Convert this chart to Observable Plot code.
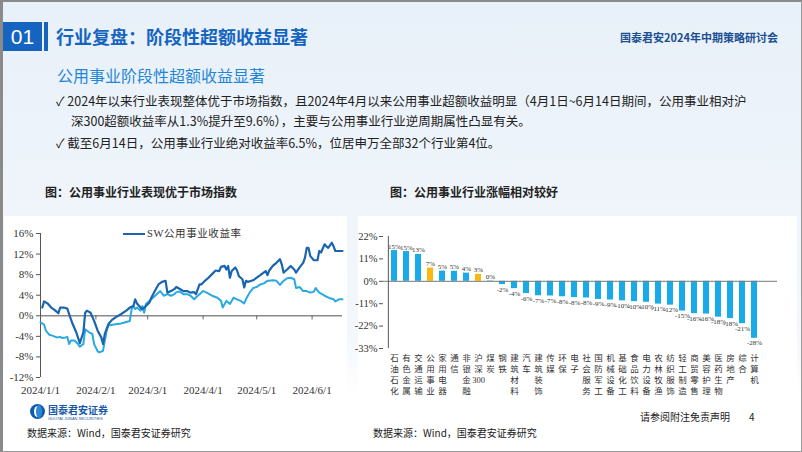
<!DOCTYPE html>
<html><head><meta charset="utf-8">
<script src="https://cdn.jsdelivr.net/npm/d3@7"></script>
<script src="https://cdn.jsdelivr.net/npm/@observablehq/plot@0.6"></script>
<style>
body{margin:0;background:#fff;}
#page{position:relative;width:802px;height:452px;overflow:hidden;background:linear-gradient(180deg,#e8f0f9 0%,#eef4fa 40%,#f4f8fc 75%,#ffffff 88%);font-family:"Noto Sans CJK SC","Noto Sans",sans-serif;}
.abs{position:absolute;white-space:nowrap;}
.panel{position:absolute;background:#fff;}
</style></head><body>
<div id="page">
  <div class="abs" style="left:3px;top:22px;width:39px;height:29px;background:#1565c0;color:#fff;font-family:'Liberation Sans',sans-serif;font-size:21px;line-height:29px;text-align:center;">01</div>
  <div class="abs" style="left:44px;top:22px;width:4px;height:29px;background:#1565c0;"></div>
  <div class="abs" style="left:56px;top:25px;font-size:18px;font-weight:bold;color:#1565c0;line-height:22px;">行业复盘：阶段性超额收益显著</div>
  <div class="abs" style="left:620px;top:30px;font-size:11px;font-weight:bold;color:#1b4f91;line-height:14px;">国泰君安2024年中期策略研讨会</div>

  <div class="abs" style="left:57px;top:65px;font-size:16px;color:#1f86d8;line-height:20px;">公用事业阶段性超额收益显著</div>
  <div class="abs" style="left:56px;top:92px;font-size:12.5px;color:#222;line-height:18px;">✓ 2024年以来行业表现整体优于市场指数，且2024年4月以来公用事业超额收益明显（4月1日~6月14日期间，公用事业相对沪</div>
  <div class="abs" style="left:71px;top:112px;font-size:12.5px;color:#222;line-height:18px;">深300超额收益率从1.3%提升至9.6%），主要与公用事业行业逆周期属性凸显有关。</div>
  <div class="abs" style="left:56px;top:134px;font-size:12.5px;color:#222;line-height:18px;">✓ 截至6月14日，公用事业行业绝对收益率6.5%，位居申万全部32个行业第4位。</div>

  <div class="abs" style="left:45px;top:184px;font-size:12px;font-weight:bold;color:#222;line-height:16px;">图：公用事业行业表现优于市场指数</div>
  <div class="abs" style="left:390px;top:184px;font-size:12px;font-weight:bold;color:#222;line-height:16px;">图：公用事业行业涨幅相对较好</div>

  <div class="panel" style="left:4px;top:216px;width:343px;height:182px;"></div>
  <div class="panel" style="left:358px;top:216px;width:439px;height:182px;"></div>

  <div id="left" class="abs" style="left:0px;top:215px;"></div>
  <div id="right" class="abs" style="left:350px;top:215px;"></div>

  <div class="abs" style="left:123px;top:233px;width:22px;height:2px;background:#1a65b0;"></div>
  <div class="abs" style="left:147px;top:227px;font-size:10.5px;color:#333;line-height:14px;font-family:'Liberation Serif','Noto Sans CJK SC',serif;letter-spacing:0.6px;">SW公用事业收益率</div>

  <div class="abs" style="left:30px;top:404px;width:15px;height:15px;border-radius:50%;background:#0d5cb0;"></div>
  <div class="abs" style="left:34px;top:406px;width:7px;height:11px;border-radius:50%;background:#fff;"></div>
  <div class="abs" style="left:36px;top:405px;width:6px;height:13px;border-radius:50%;background:#2f86d6;"></div>
  <div class="abs" style="left:48px;top:403px;font-size:10px;font-weight:bold;color:#1a5aa8;line-height:13px;">国泰君安证券</div>
  <div class="abs" style="left:48px;top:416px;font-size:4px;color:#1a5aa8;line-height:5px;font-family:'Liberation Sans',sans-serif;">GUOTAI JUNAN SECURITIES</div>

  <div class="abs" style="left:27px;top:426px;font-size:10px;color:#222;line-height:13px;">数据来源：Wind，国泰君安证券研究</div>
  <div class="abs" style="left:373px;top:426px;font-size:10px;color:#222;line-height:13px;">数据来源：Wind，国泰君安证券研究</div>
  <div class="abs" style="left:640px;top:410px;font-size:10px;color:#222;line-height:13px;">请参阅附注免责声明</div>
  <div class="abs" style="left:749px;top:410px;font-size:10px;color:#222;line-height:13px;">4</div>

  <div class="abs" style="left:0;top:0;width:802px;height:452px;box-sizing:border-box;border:1px solid #9a9a9a;border-left:3px solid #8a8a8a;border-top:2px solid #8a8a8a;"></div>
</div>
<script>
// ---------- left chart data ----------
const swDates = ["2024-01-02","2024-01-03","2024-01-05","2024-01-07","2024-01-09","2024-01-10","2024-01-11","2024-01-12","2024-01-14","2024-01-16","2024-01-17","2024-01-19","2024-01-21","2024-01-23","2024-01-25","2024-01-26","2024-01-27","2024-01-29","2024-01-31","2024-02-02","2024-02-04","2024-02-05","2024-02-06","2024-02-08","2024-02-10","2024-02-12","2024-02-15","2024-02-18","2024-02-20","2024-02-22","2024-02-23","2024-02-24","2024-02-26","2024-02-27","2024-02-29","2024-03-02","2024-03-03","2024-03-05","2024-03-07","2024-03-09","2024-03-11","2024-03-12","2024-03-14","2024-03-16","2024-03-17","2024-03-19","2024-03-21","2024-03-23","2024-03-25","2024-03-27","2024-03-28","2024-03-30","2024-03-31","2024-04-02","2024-04-04","2024-04-06","2024-04-08","2024-04-10","2024-04-11","2024-04-13","2024-04-14","2024-04-15","2024-04-16","2024-04-17","2024-04-19","2024-04-20","2024-04-21","2024-04-23","2024-04-24","2024-04-25","2024-04-26","2024-04-29","2024-05-01","2024-05-03","2024-05-06","2024-05-07","2024-05-08","2024-05-10","2024-05-12","2024-05-14","2024-05-15","2024-05-16","2024-05-18","2024-05-20","2024-05-22","2024-05-23","2024-05-25","2024-05-27","2024-05-28","2024-05-29","2024-05-30","2024-05-31","2024-06-02","2024-06-04","2024-06-05","2024-06-06","2024-06-08","2024-06-09","2024-06-10","2024-06-12","2024-06-13","2024-06-14","2024-06-16","2024-06-18"];
const swValues = [1.6,2.8,2.4,1.6,1.1,0.8,0.5,1.6,1.6,1.4,0.3,-1.6,-3.2,-5.3,-3.2,0.6,1.0,0.6,-1.0,-2.9,-4.2,-5.5,-3.5,-1.6,-0.8,-0.3,0.3,1.0,1.6,1.9,3.2,2.4,1.6,1.3,1.9,2.6,3.5,4.8,6.1,6.6,6.8,4.5,4.8,5.2,5.6,5.2,4.8,4.8,4.5,4.6,4.2,6.1,6.1,6.8,7.4,8.1,8.8,8.7,9.5,9.7,9.0,9.7,7.4,8.7,9.4,8.8,7.7,7.1,5.5,6.8,6.6,6.9,7.4,7.9,8.7,7.9,8.8,9.7,10.3,11.0,10.0,8.4,9.0,9.7,9.0,8.4,9.4,10.3,11.3,13.2,13.2,11.6,10.8,10.8,12.6,12.3,13.9,13.5,13.2,14.2,13.5,12.6,12.6,12.6];
const hsDates = ["2024-01-01","2024-01-03","2024-01-04","2024-01-06","2024-01-08","2024-01-10","2024-01-12","2024-01-13","2024-01-15","2024-01-16","2024-01-17","2024-01-18","2024-01-20","2024-01-22","2024-01-23","2024-01-25","2024-01-26","2024-01-27","2024-01-29","2024-01-30","2024-01-31","2024-02-02","2024-02-03","2024-02-05","2024-02-06","2024-02-07","2024-02-08","2024-02-11","2024-02-15","2024-02-19","2024-02-20","2024-02-21","2024-02-22","2024-02-23","2024-02-24","2024-02-26","2024-02-27","2024-02-28","2024-02-29","2024-03-02","2024-03-03","2024-03-04","2024-03-06","2024-03-08","2024-03-10","2024-03-12","2024-03-14","2024-03-16","2024-03-17","2024-03-19","2024-03-21","2024-03-23","2024-03-25","2024-03-27","2024-03-29","2024-03-30","2024-04-01","2024-04-03","2024-04-06","2024-04-09","2024-04-11","2024-04-12","2024-04-14","2024-04-16","2024-04-18","2024-04-20","2024-04-22","2024-04-24","2024-04-25","2024-04-27","2024-04-29","2024-05-01","2024-05-03","2024-05-05","2024-05-07","2024-05-08","2024-05-10","2024-05-12","2024-05-14","2024-05-16","2024-05-18","2024-05-20","2024-05-22","2024-05-23","2024-05-25","2024-05-27","2024-05-29","2024-05-31","2024-06-02","2024-06-03","2024-06-05","2024-06-08","2024-06-11","2024-06-13","2024-06-14","2024-06-16","2024-06-18"];
const hsValues = [-1.3,-1.7,-2.9,-3.7,-3.9,-4.2,-4.1,-4.3,-4.2,-4.1,-5.5,-4.8,-4.8,-5.5,-6.0,-5.5,-2.6,-2.9,-3.4,-3.5,-5.5,-6.9,-7.1,-6.8,-4.8,-2.9,-1.9,-1.7,-1.5,-1.1,-1.0,1.3,1.9,1.3,1.6,1.0,1.9,0.6,2.3,2.9,3.2,3.5,4.2,4.8,3.9,4.2,3.9,4.2,4.6,4.7,4.2,4.2,3.9,3.2,3.9,4.2,4.8,4.5,3.9,3.5,2.9,1.6,2.9,2.3,3.5,3.2,2.9,2.4,3.2,4.5,5.4,5.6,6.1,6.3,6.8,6.8,6.9,6.8,6.0,6.8,7.3,7.4,7.1,5.4,5.6,4.8,4.8,4.5,4.7,5.4,4.5,3.9,3.4,3.2,2.8,3.2,3.2];
const lineYTicks = [16,12,8,4,0,-4,-8,-12];
const lineXTicks = ["2024-01-01","2024-02-01","2024-03-01","2024-04-01","2024-05-01","2024-06-01"];
const lineXDomain = ["2024-01-01","2024-06-18"];

// ---------- right chart data ----------
const barCats = ["石油石化","有色金属","交通运输","公用事业","家用电器","通信","非银金融","沪深300","煤炭","钢铁","建筑材料","汽车","建筑装饰","传媒","环保","电子","社会服务","国防军工","机械设备","基础化工","食品饮料","电力设备","农林牧渔","纺织服饰","轻工制造","商贸零售","美容护理","医药生物","房地产","综合","计算机"];
const barValues = [15.1,14.6,13.2,6.5,5.0,4.9,4.0,3.4,0.2,-1.6,-3.6,-6.0,-7.1,-7.2,-7.6,-8.0,-8.2,-8.9,-9.2,-9.6,-10.0,-10.3,-11.2,-11.7,-14.6,-15.9,-16.1,-17.6,-18.3,-20.8,-28.0];
const barHighlight = ["公用事业","沪深300"];
const barYTicks = [22,11,0,-11,-22,-33];

const P = d => new Date(d + "T00:00:00Z");
const sw = swDates.map((d,i)=>({date:P(d), value:swValues[i]}));
const hs = hsDates.map((d,i)=>({date:P(d), value:hsValues[i]}));
const xt = lineXTicks.map(P);
const fmtDate = d => `${d.getUTCFullYear()}/${d.getUTCMonth()+1}/${d.getUTCDate()}`;

const left = Plot.plot({
  width: 350, height: 190,
  marginLeft: 40, marginRight: 8, marginTop: 18, marginBottom: 28,
  style: {background:"transparent", fontFamily:"'Liberation Serif','Times New Roman',serif", fontSize:"11px", color:"#333"},
  x: {type:"utc", domain: lineXDomain.map(P)},
  y: {domain:[-12,16]},
  marks: [
    Plot.ruleY([0], {stroke:"#8a8a8a", strokeWidth:1.6}),
    Plot.ruleX(xt.slice(1), {y1:0, y2:-0.8, stroke:"#666"}),
    Plot.ruleX([P(lineXDomain[0])], {stroke:"#555"}),
    Plot.axisY({ticks: lineYTicks, tickFormat: d => d + "%", tickSize: 4, tickPadding: 3, label: null, stroke:"#555"}),
    Plot.axisX({ticks: xt, tickFormat: fmtDate, tickSize: 0, tickPadding: 9, label: null}),
    Plot.line(hs, {x:"date", y:"value", stroke:"#2aa9e2", strokeWidth:2}),
    Plot.line(sw, {x:"date", y:"value", stroke:"#1a65b0", strokeWidth:2.2})
  ]
});
document.getElementById("left").appendChild(left);

const bars = barCats.map((c,i)=>({cat:c, value:barValues[i], hl: barHighlight.includes(c)}));
const splitLabel = s => (s.match(/\d+|./g) || []).join("\n");
const pct = d => Math.round(d.value) + "%";

const right = Plot.plot({
  width: 452, height: 190,
  marginLeft: 33, marginRight: 37, marginTop: 21, marginBottom: 57,
  style: {background:"transparent", fontFamily:"'Liberation Serif','Times New Roman',serif", fontSize:"10.5px", color:"#333"},
  x: {domain: barCats, padding: 0.5},
  y: {domain: [-33, 22]},
  marks: [
    Plot.barY(bars, {x:"cat", y:"value", fill: d => d.hl ? "#f8b80f" : "#19aaea"}),
    Plot.ruleY([0], {stroke:"#777", strokeWidth:1, insetRight:-12}),
    Plot.ruleX([-33], {x: () => barCats[0], dx: -6.15, y1:-33, y2:22, stroke:"#555"}),
    Plot.axisY({ticks: barYTicks, tickFormat: d => d + "%", tickSize: 4, tickPadding: 2, label: null, stroke:"#555"}),
    Plot.axisX({tickFormat: splitLabel, tickSize: 0, tickPadding: 5, label: null, fontSize: 8.5, lineHeight: 1.3, fontFamily:"'Liberation Serif','Noto Sans CJK SC',serif", fill:"#333"}),
    Plot.text(bars.filter(d => d.value >= 0), {x:"cat", y:"value", text: pct, dy: -2, lineAnchor: "bottom", fontSize: 7, fill:"#333"}),
    Plot.text(bars.filter(d => d.value < 0), {x:"cat", y:"value", text: pct, dy: 2, lineAnchor: "top", fontSize: 7, fill:"#333"})
  ]
});
document.getElementById("right").appendChild(right);
</script>
</body></html>
